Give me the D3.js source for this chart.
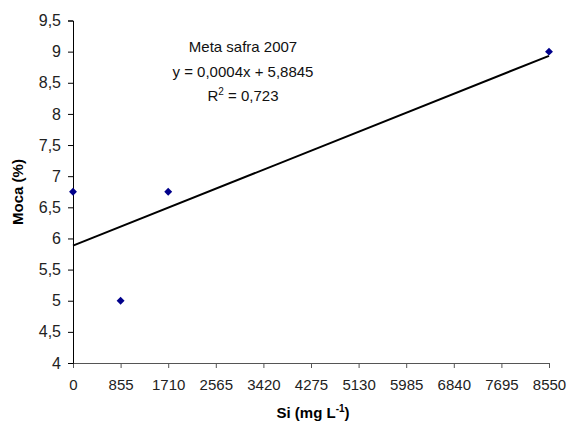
<!DOCTYPE html>
<html>
<head>
<meta charset="utf-8">
<script src="https://cdn.jsdelivr.net/npm/d3@7"></script>
<style>
  body { margin: 0; background: #fff; }
  text { font-family: "Liberation Sans", Arial, sans-serif; }
</style>
</head>
<body>
<svg id="chart" width="569" height="427"></svg>
<script>
// dados do gráfico
const siValues = [0, 855, 1710, 8550];
const mocaValues = [6.75, 5, 6.75, 9];
const xTicks = [0, 855, 1710, 2565, 3420, 4275, 5130, 5985, 6840, 7695, 8550];
const yTicks = [4, 4.5, 5, 5.5, 6, 6.5, 7, 7.5, 8, 8.5, 9, 9.5];
const trendSlope = 0.0003565;
const trendIntercept = 5.8845;
const annotationLines = ['Meta safra 2007', 'y = 0,0004x + 5,8845', 'R2 = 0,723'];

const svg = d3.select('#chart');
const x = d3.scaleLinear().domain([0, 8550]).range([73, 549]);
const y = d3.scaleLinear().domain([4, 9.5]).range([363, 20.5]);
const fmt = d => String(d).replace('.', ',');

// eixo x
const xAxis = svg.append('g')
    .attr('transform', `translate(0,${y(4)})`)
    .call(d3.axisBottom(x).tickValues(xTicks).tickFormat(fmt).tickSizeOuter(0).tickSize(5));
xAxis.select('.domain').attr('stroke', '#555');
xAxis.selectAll('.tick line').attr('stroke', '#555');
xAxis.selectAll('text').attr('font-size', 15).attr('fill', '#222').attr('dy', '1.25em');

// eixo y
const yAxis = svg.append('g')
    .attr('transform', `translate(${x(0)},0)`)
    .call(d3.axisLeft(y).tickValues(yTicks).tickFormat(fmt).tickSizeOuter(0).tickSize(5));
yAxis.select('.domain').attr('stroke', '#000');
yAxis.selectAll('.tick line').attr('stroke', '#000');
yAxis.selectAll('text').attr('font-size', 16).attr('fill', '#222').attr('x', -12);

// linha de tendência
svg.append('line')
    .attr('x1', x(0)).attr('y1', y(trendIntercept))
    .attr('x2', x(8550)).attr('y2', y(trendIntercept + trendSlope * 8550))
    .attr('stroke', '#000').attr('stroke-width', 2);

// pontos
svg.append('g').selectAll('path')
    .data(siValues.map((v, i) => ({ x: v, y: mocaValues[i] })))
    .enter().append('path')
    .attr('d', d3.symbol().type(d3.symbolDiamond2).size(40))
    .attr('transform', d => `translate(${x(d.x)},${y(d.y)})`)
    .attr('fill', '#00008b');

// anotação
const ann = svg.append('text').attr('text-anchor', 'middle').attr('font-size', 15).attr('fill', '#111');
ann.append('tspan').attr('x', 243).attr('y', 52).text(annotationLines[0]);
ann.append('tspan').attr('x', 243).attr('y', 77).text(annotationLines[1]);
const r2 = ann.append('tspan').attr('x', 243).attr('y', 101);
r2.append('tspan').text('R');
r2.append('tspan').attr('font-size', 10).attr('dy', -6).text('2');
r2.append('tspan').attr('dy', 6).text(' = 0,723');

// títulos dos eixos
const xt = svg.append('text').attr('x', 313).attr('y', 418).attr('text-anchor', 'middle')
    .attr('font-size', 15).attr('font-weight', 'bold');
xt.append('tspan').text('Si (mg L');
xt.append('tspan').attr('font-size', 10).attr('dy', -6).text('-1');
xt.append('tspan').attr('dy', 6).text(')');

svg.append('text')
    .attr('transform', 'translate(23,192) rotate(-90)')
    .attr('text-anchor', 'middle').attr('font-size', 15).attr('font-weight', 'bold')
    .text('Moca (%)');
</script>
</body>
</html>
